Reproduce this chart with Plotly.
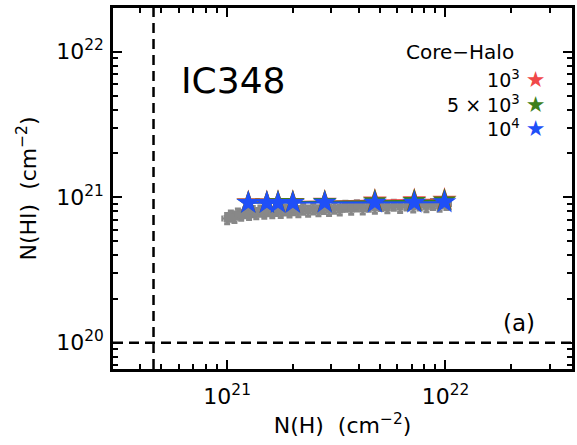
import math
import plotly.graph_objects as go

# Gray measurements: total column N(H) vs atomic column N(HI)
nh_obs = [1.00e21, 1.04e21, 1.08e21, 1.12e21, 1.16e21, 1.21e21, 1.26e21, 1.31e21, 1.36e21, 1.42e21,
          1.48e21, 1.54e21, 1.61e21, 1.68e21, 1.76e21, 1.84e21, 1.93e21, 2.02e21, 2.12e21, 2.23e21,
          2.35e21, 2.48e21, 2.62e21, 2.77e21, 2.93e21, 3.10e21, 3.28e21, 3.48e21, 3.70e21, 3.93e21,
          4.18e21, 4.45e21, 4.75e21, 5.07e21, 5.42e21, 5.80e21, 6.20e21, 6.65e21, 7.12e21, 7.63e21,
          8.18e21, 8.77e21, 9.40e21, 1.01e22]
nhi_obs = [7.15e20, 7.45e20, 7.30e20, 7.70e20, 7.55e20, 7.85e20, 7.65e20, 8.00e20, 7.75e20, 8.05e20,
           7.80e20, 8.10e20, 7.85e20, 8.15e20, 7.90e20, 8.20e20, 7.95e20, 8.25e20, 8.00e20, 8.30e20,
           8.05e20, 8.35e20, 8.10e20, 8.40e20, 8.15e20, 8.45e20, 8.20e20, 8.70e20, 8.30e20, 8.75e20,
           8.35e20, 8.70e20, 8.45e20, 8.80e20, 8.50e20, 8.85e20, 8.55e20, 8.90e20, 8.60e20, 8.90e20,
           8.65e20, 8.95e20, 8.70e20, 8.95e20]
err_pct_x = 5
err_pct_y = 8

# Core-halo model predictions for three densities
nh_model = [1.25e21, 1.52e21, 1.71e21, 2.00e21, 2.80e21, 4.75e21, 7.20e21, 9.90e21]
nhi_1e3 = [9.25e20, 9.25e20, 9.30e20, 9.30e20, 9.35e20, 9.50e20, 9.55e20, 9.65e20]
nhi_5e3 = [9.20e20, 9.20e20, 9.25e20, 9.25e20, 9.30e20, 9.40e20, 9.45e20, 9.50e20]
nhi_1e4 = [9.15e20, 9.15e20, 9.15e20, 9.15e20, 9.20e20, 9.20e20, 9.20e20, 9.25e20]

model_labels = ["10<sup>3</sup>", "5 × 10<sup>3</sup>", "10<sup>4</sup>"]
model_colors = ["#f04848", "#3d7f1a", "#1f4ff8"]

# Reference levels (dashed)
nh_ref = 4.6e20
nhi_ref = 1.0e20

x_range = [3.0e20, 3.8e22]
y_range = [6.6e19, 2.0e22]
x_major = [1e21, 1e22]
x_major_text = ["10<sup>21</sup>", "10<sup>22</sup>"]
y_major = [1e20, 1e21, 1e22]
y_major_text = ["10<sup>20</sup>", "10<sup>21</sup>", "10<sup>22</sup>"]

FONT = "DejaVu Sans"


def minor_ticks(lo_exp, hi_exp):
    vals = []
    for e in range(lo_exp, hi_exp + 1):
        for m in range(2, 10):
            vals.append(m * 10.0 ** e)
    return vals


fig = go.Figure()

fig.add_trace(go.Scatter(
    x=nh_obs, y=nhi_obs, mode="markers",
    marker=dict(symbol="square", size=7, color="#888888"),
    error_x=dict(type="percent", value=err_pct_x, color="#888888", thickness=2, width=3),
    error_y=dict(type="percent", value=err_pct_y, color="#888888", thickness=3, width=3),
    showlegend=False,
))

for ys, col in zip([nhi_1e3, nhi_5e3, nhi_1e4], model_colors):
    fig.add_trace(go.Scatter(
        x=nh_model, y=ys, mode="lines+markers",
        line=dict(color=col, width=2),
        marker=dict(symbol="star", size=18, color=col, line=dict(width=0)),
        showlegend=False,
    ))

dash_style = dict(color="black", width=2.5, dash="10px,6px")
fig.add_vline(x=nh_ref, line=dash_style)
fig.add_hline(y=nhi_ref, line=dash_style)

axis_common = dict(
    type="log", showline=True, linecolor="black", linewidth=2.5, mirror="allticks",
    ticks="inside", ticklen=9, tickwidth=2, tickcolor="black",
    showgrid=False, zeroline=False, tickmode="array",
    tickfont=dict(family=FONT, size=22, color="black"),
)
title_font = dict(family=FONT, size=22, color="black")

fig.update_xaxes(
    **axis_common,
    range=[math.log10(v) for v in x_range],
    tickvals=x_major, ticktext=x_major_text, ticklabelstandoff=6,
    minor=dict(tickmode="array", tickvals=minor_ticks(20, 22), ticks="inside",
               ticklen=5, tickwidth=2, tickcolor="black", showgrid=False),
    title=dict(text="N(H)  (cm<sup>−2</sup>)", font=title_font, standoff=10),
)
fig.update_yaxes(
    **axis_common,
    range=[math.log10(v) for v in y_range],
    tickvals=y_major, ticktext=y_major_text, ticklabelstandoff=2,
    minor=dict(tickmode="array", tickvals=minor_ticks(19, 22), ticks="inside",
               ticklen=5, tickwidth=2, tickcolor="black", showgrid=False),
    title=dict(text="N(HI)  (cm<sup>−2</sup>)", font=title_font, standoff=14),
)

fig.add_annotation(text="IC348", xref="paper", yref="paper", x=0.262, y=0.80,
                   xanchor="center", yanchor="middle",
                   showarrow=False, font=dict(family=FONT, size=36, color="black"))
fig.add_annotation(text="Core−Halo", xref="paper", yref="paper", x=0.878, y=0.878,
                   xanchor="right", yanchor="middle",
                   showarrow=False, font=dict(family=FONT, size=20, color="black"))
legend_rows = "<br>".join(
    f"{lab} <span style='color:{col};font-size:22px'>★</span>"
    for lab, col in zip(model_labels, model_colors)
)
fig.add_annotation(text=legend_rows, xref="paper", yref="paper", x=0.948, y=0.735,
                   xanchor="right", yanchor="middle", align="right", showarrow=False,
                   font=dict(family=FONT, size=19, color="black"))
fig.add_annotation(text="(a)", xref="paper", yref="paper", x=0.884, y=0.127,
                   xanchor="center", yanchor="middle",
                   showarrow=False, font=dict(family=FONT, size=23, color="black"))

fig.update_layout(
    width=577, height=445,
    margin=dict(l=113, r=2, t=8, b=76),
    paper_bgcolor="white", plot_bgcolor="white",
    font=dict(family=FONT, color="black"),
)

fig.write_html("out.html")
